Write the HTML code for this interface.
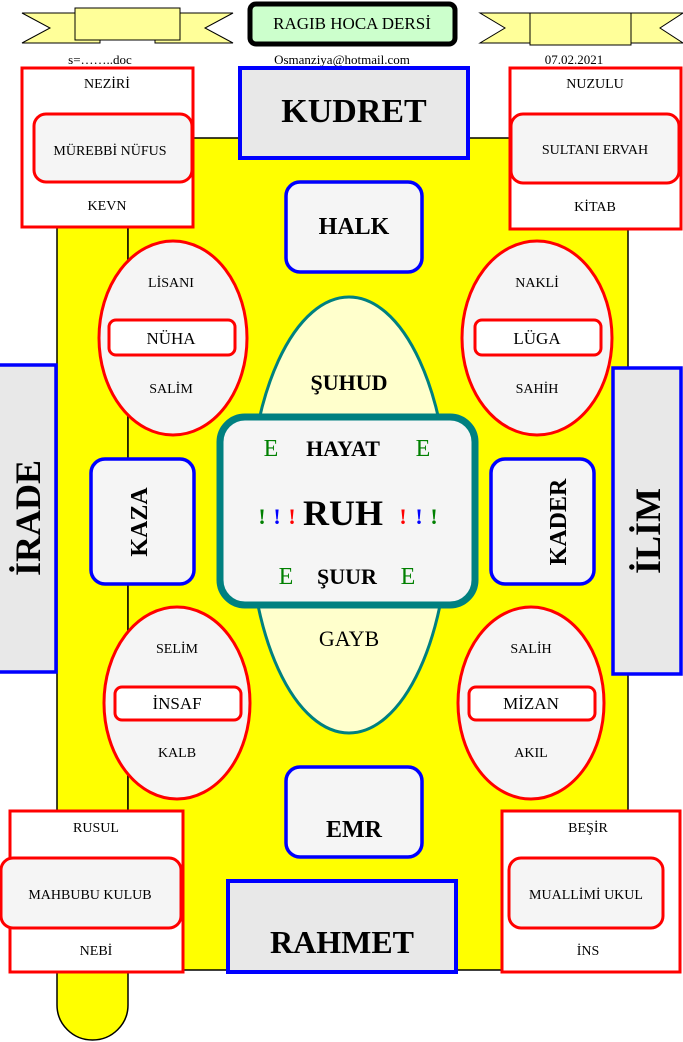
<!DOCTYPE html>
<html><head><meta charset="utf-8"><style>
html,body{margin:0;padding:0;background:#fff}
svg{display:block}
text{font-family:"Liberation Serif",serif}
</style></head><body>
<svg width="683" height="1042" viewBox="0 0 683 1042" xmlns="http://www.w3.org/2000/svg">
<!-- yellow base -->
<path d="M57,138 H128 V1005 A35.5,35 0 0 1 57,1005 Z" fill="#ffff00" stroke="#000" stroke-width="1.5"/>
<rect x="128" y="138" width="500" height="832" fill="#ffff00" stroke="#000" stroke-width="1.5"/>
<!-- banners -->
<g fill="#ffff99" stroke="#000" stroke-width="1">
<path d="M22,13 H100 V43 H22 L50,28 Z"/>
<path d="M233,13 H155 V43 H233 L205,28 Z"/>
<rect x="75" y="8" width="105" height="32"/>
<path d="M480,13 H560 V43 H480 L505,28 Z"/>
<path d="M683,13 H605 V43 H683 L660,28 Z"/>
<rect x="530" y="13" width="101" height="32"/>
</g>
<rect x="250" y="4" width="205" height="40" rx="6" fill="#ccffcc" stroke="#000" stroke-width="5"/>
<text x="352" y="29" font-size="17" text-anchor="middle">RAGIB HOCA DERSİ</text>
<g font-size="13" text-anchor="middle">
<text x="100" y="64">s=……..doc</text>
<text x="342" y="64">Osmanziya@hotmail.com</text>
<text x="574" y="64">07.02.2021</text>
</g>
<!-- corner boxes -->
<g fill="#fff" stroke="#f00" stroke-width="3">
<rect x="22" y="68" width="171" height="159"/>
<rect x="510" y="68" width="171" height="161"/>
<rect x="10" y="811" width="173" height="161"/>
<rect x="502" y="811" width="178" height="161"/>
</g>
<g fill="#f5f5f5" stroke="#f00" stroke-width="3">
<rect x="34" y="114" width="158" height="68" rx="12"/>
<rect x="511" y="114" width="168" height="69" rx="12"/>
<rect x="1" y="858" width="180" height="70" rx="12"/>
<rect x="509" y="858" width="154" height="70" rx="12"/>
</g>
<g font-size="14" text-anchor="middle">
<text x="107" y="88">NEZİRİ</text><text x="110" y="155">MÜREBBİ NÜFUS</text><text x="107" y="210">KEVN</text>
<text x="595" y="88">NUZULU</text><text x="595" y="154">SULTANI ERVAH</text><text x="595" y="211">KİTAB</text>
<text x="96" y="832">RUSUL</text><text x="90" y="899">MAHBUBU KULUB</text><text x="96" y="955">NEBİ</text>
<text x="588" y="832">BEŞİR</text><text x="586" y="899">MUALLİMİ UKUL</text><text x="588" y="955">İNS</text>
</g>
<!-- KUDRET / RAHMET -->
<rect x="240" y="68" width="228" height="90" fill="#e8e8e8" stroke="#00f" stroke-width="4"/>
<text x="354" y="122" font-size="34" font-weight="bold" text-anchor="middle">KUDRET</text>
<rect x="228" y="881" width="228" height="91" fill="#e8e8e8" stroke="#00f" stroke-width="4"/>
<text x="342" y="953" font-size="32" font-weight="bold" text-anchor="middle">RAHMET</text>
<!-- HALK / EMR -->
<rect x="286" y="182" width="136" height="90" rx="14" fill="#f5f5f5" stroke="#00f" stroke-width="3.5"/>
<text x="354" y="234" font-size="24" font-weight="bold" text-anchor="middle">HALK</text>
<rect x="286" y="767" width="136" height="90" rx="14" fill="#f5f5f5" stroke="#00f" stroke-width="3.5"/>
<text x="354" y="837" font-size="24" font-weight="bold" text-anchor="middle">EMR</text>
<!-- ellipses -->
<g fill="#f5f5f5" stroke="#f00" stroke-width="3">
<ellipse cx="173" cy="338" rx="74" ry="97"/>
<ellipse cx="537" cy="338" rx="75" ry="97"/>
<ellipse cx="177" cy="703" rx="73" ry="96"/>
<ellipse cx="531" cy="703" rx="73" ry="96"/>
</g>
<g fill="#fff" stroke="#f00" stroke-width="3">
<rect x="109" y="320" width="126" height="35" rx="7"/>
<rect x="475" y="320" width="126" height="35" rx="7"/>
<rect x="115" y="687" width="126" height="33" rx="7"/>
<rect x="469" y="687" width="126" height="33" rx="7"/>
</g>
<g font-size="14" text-anchor="middle">
<text x="171" y="287">LİSANI</text><text x="171" y="393">SALİM</text>
<text x="537" y="287">NAKLİ</text><text x="537" y="393">SAHİH</text>
<text x="177" y="653">SELİM</text><text x="177" y="757">KALB</text>
<text x="531" y="653">SALİH</text><text x="531" y="757">AKIL</text>
</g>
<g font-size="17" text-anchor="middle">
<text x="171" y="344">NÜHA</text><text x="537" y="344">LÜGA</text>
<text x="177" y="709">İNSAF</text><text x="531" y="709">MİZAN</text>
</g>
<!-- center oval -->
<ellipse cx="349" cy="515" rx="100" ry="218" fill="#ffffcc" stroke="#008080" stroke-width="3"/>
<text x="349" y="390" font-size="22" font-weight="bold" text-anchor="middle">ŞUHUD</text>
<text x="349" y="646" font-size="22" text-anchor="middle">GAYB</text>
<rect x="220" y="417" width="255" height="188" rx="25" fill="#f5f5f5" stroke="#008080" stroke-width="7"/>
<g font-size="24" text-anchor="middle">
<text x="271" y="456" fill="#008000">E</text><text x="423" y="456" fill="#008000">E</text>
<text x="343" y="456" font-weight="bold" font-size="22">HAYAT</text>
<text x="286" y="584" fill="#008000">E</text><text x="408" y="584" fill="#008000">E</text>
<text x="347" y="584" font-weight="bold" font-size="22">ŞUUR</text>
</g>
<text x="343" y="525" font-size="36" font-weight="bold" text-anchor="middle">RUH</text>
<g font-size="22" font-weight="bold" text-anchor="middle">
<text x="262" y="524" fill="#008000">!</text><text x="277" y="524" fill="#00f">!</text><text x="292" y="524" fill="#f00">!</text>
<text x="403" y="524" fill="#f00">!</text><text x="419" y="524" fill="#00f">!</text><text x="434" y="524" fill="#008000">!</text>
</g>
<!-- KAZA / KADER -->
<rect x="91" y="459" width="103" height="125" rx="14" fill="#f5f5f5" stroke="#00f" stroke-width="3.5"/>
<text transform="translate(147,522) rotate(-90)" font-size="24" font-weight="bold" text-anchor="middle">KAZA</text>
<rect x="491" y="459" width="103" height="125" rx="14" fill="#f5f5f5" stroke="#00f" stroke-width="3.5"/>
<text transform="translate(566,522) rotate(-90)" font-size="24" font-weight="bold" text-anchor="middle">KADER</text>
<!-- İRADE / İLİM -->
<rect x="-2" y="365" width="58" height="307" fill="#e8e8e8" stroke="#00f" stroke-width="3.5"/>
<text transform="translate(40,518) rotate(-90)" font-size="36" font-weight="bold" text-anchor="middle">İRADE</text>
<rect x="613" y="368" width="68" height="306" fill="#e8e8e8" stroke="#00f" stroke-width="3.5"/>
<text transform="translate(660,531) rotate(-90)" font-size="36" font-weight="bold" text-anchor="middle">İLİM</text>
</svg>
</body></html>
